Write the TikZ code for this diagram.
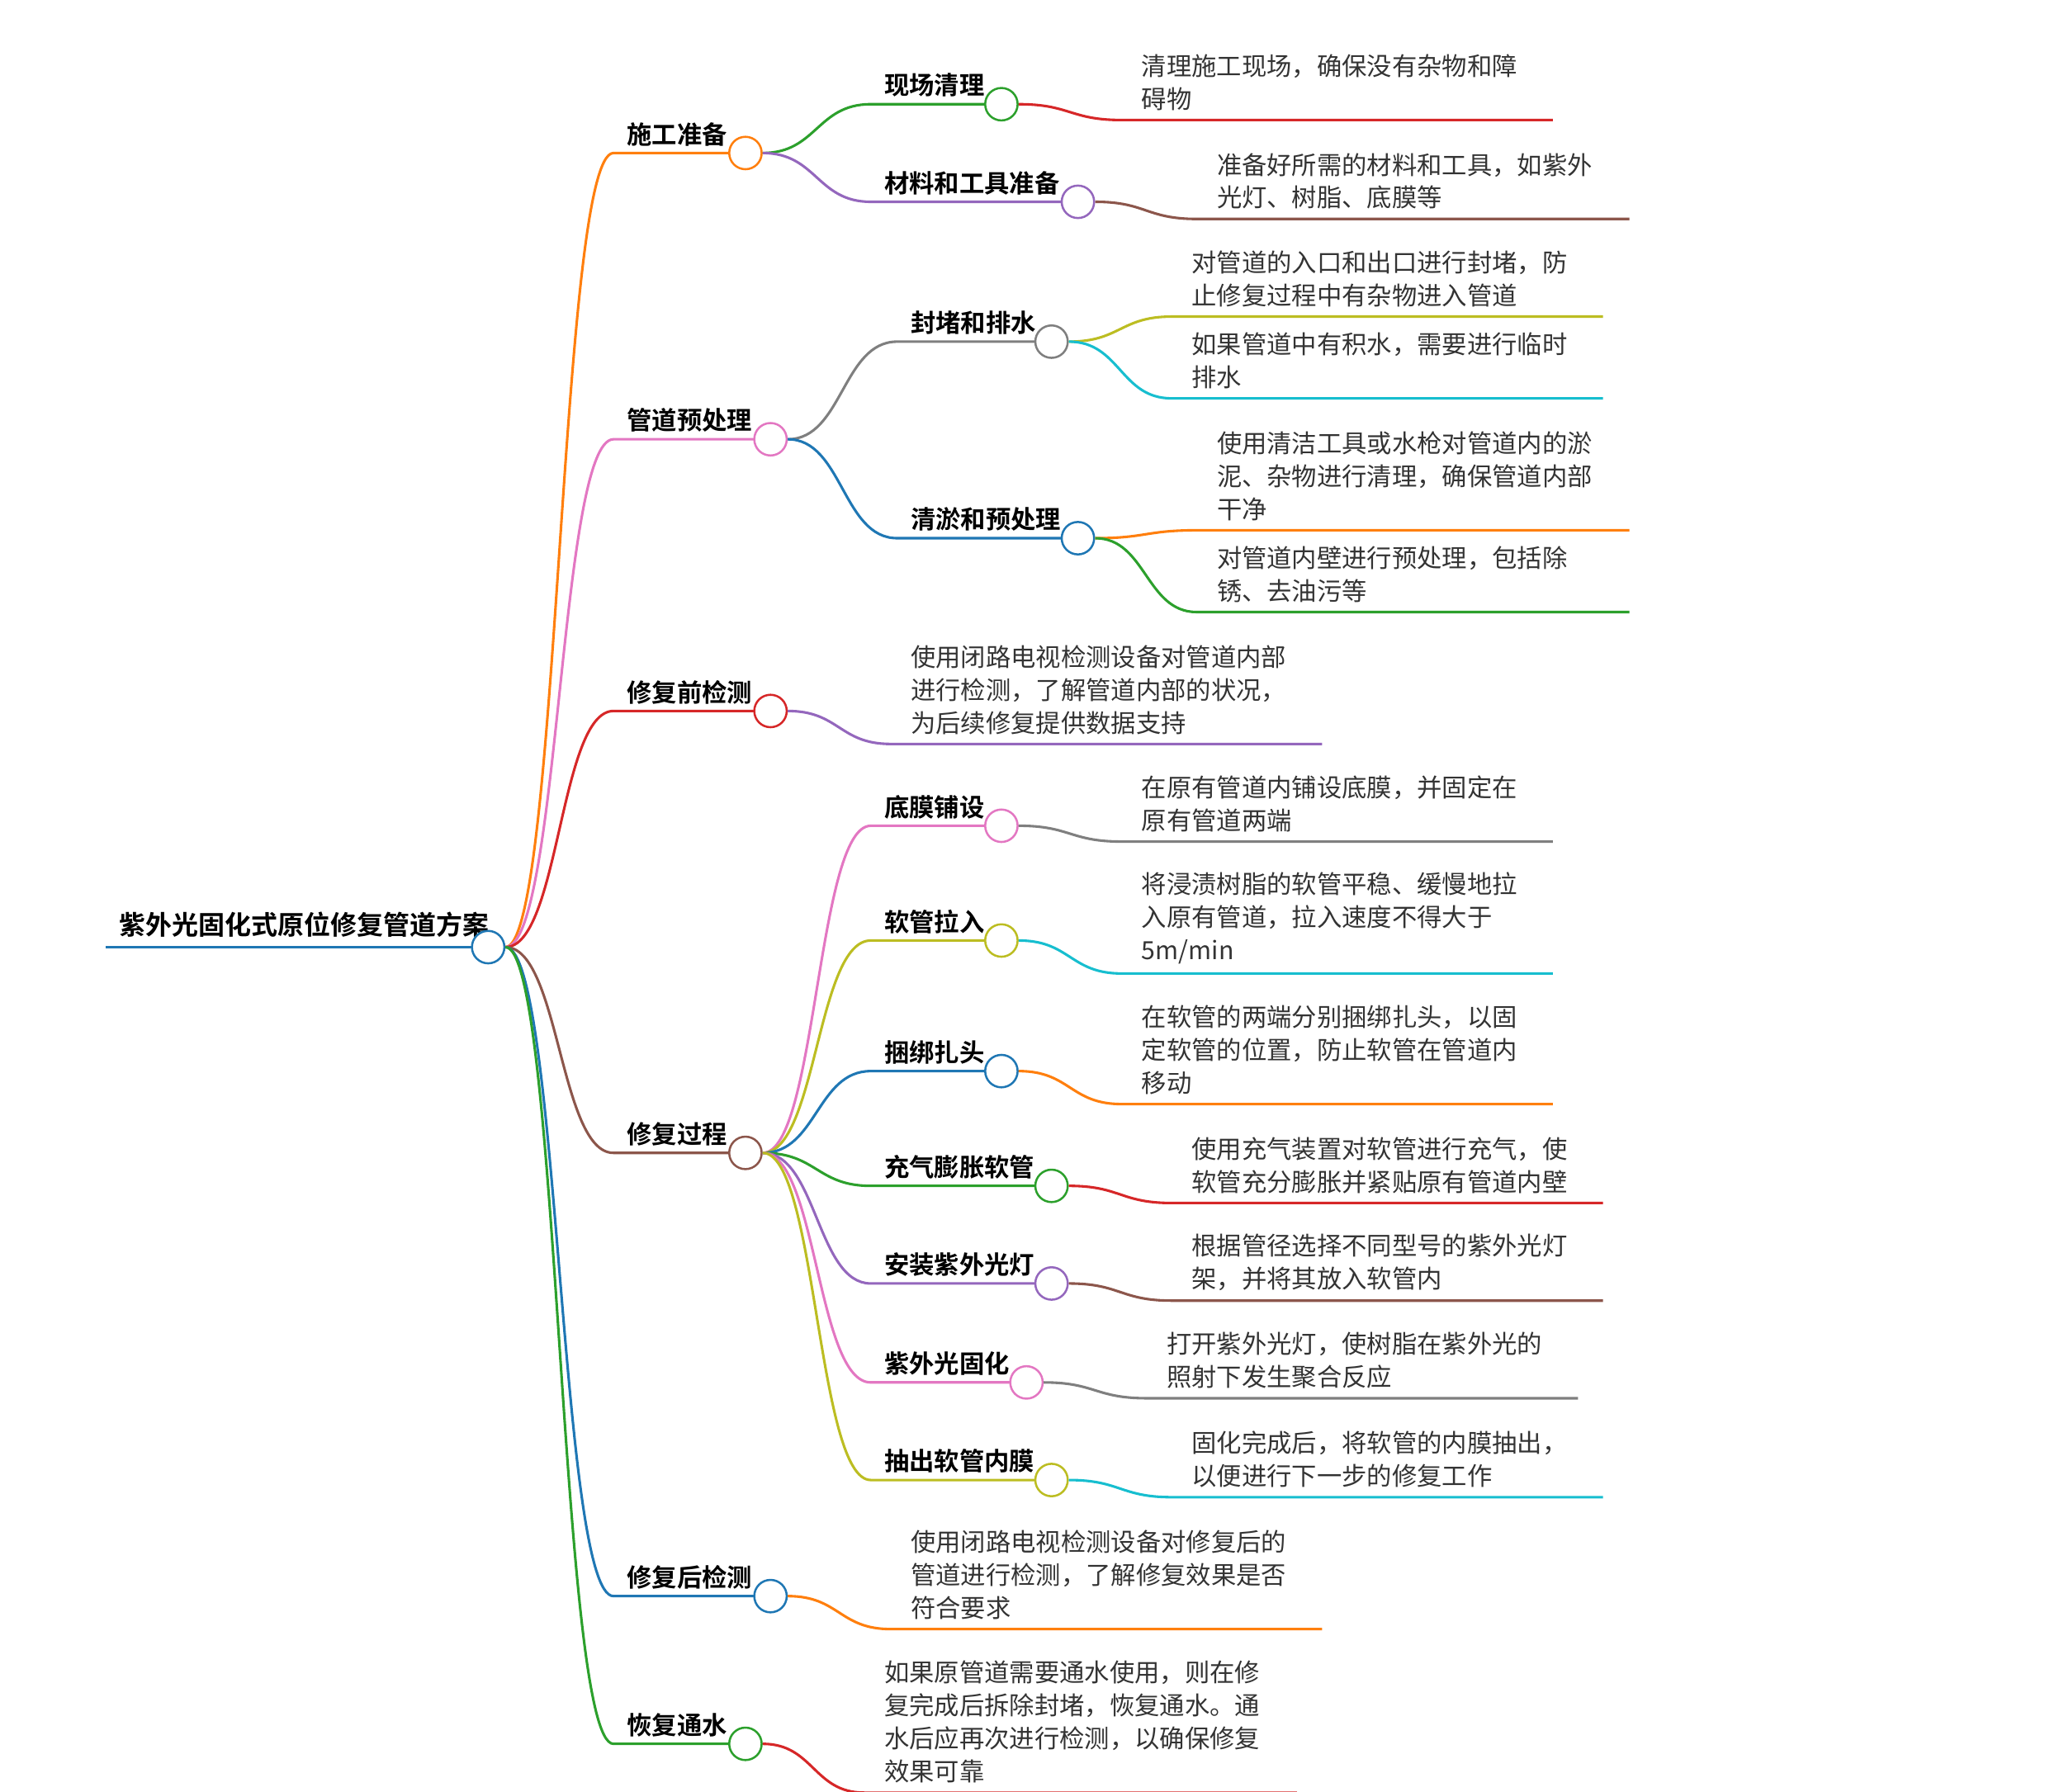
\documentclass[tikz,border=0pt]{standalone}
\usepackage{fontspec}
\setmainfont{Noto Sans CJK SC}[BoldFont={Noto Sans CJK SC Bold}]
\usetikzlibrary{calc}

\definecolor{cOrange}{HTML}{FF7F0E}
\definecolor{cPink}{HTML}{E377C2}
\definecolor{cRed}{HTML}{D62728}
\definecolor{cBrown}{HTML}{8C564B}
\definecolor{cBlue}{HTML}{1F77B4}
\definecolor{cGreen}{HTML}{2CA02C}
\definecolor{cPurple}{HTML}{9467BD}
\definecolor{cGray}{HTML}{7F7F7F}
\definecolor{cOlive}{HTML}{BCBD22}
\definecolor{cCyan}{HTML}{17BECF}
\definecolor{cText}{HTML}{333333}

\tikzset{
  dot/.style={circle,fill=white,minimum size=14,inner sep=0pt,line width=0.9pt},
  topic/.style={anchor=south west,inner sep=0pt,font=\bfseries\fontsize{10.8}{14.2}\selectfont,text=black},
  leaftext/.style={anchor=south west,inner sep=0pt,align=left,text=cText,font=\fontsize{10.8}{14.2}\selectfont},
  branch/.style={line width=1.1pt}
}

% #1 name, #2 parent, #3 line start x, #4 circle x, #5 y, #6 colour, #7 label
\newcommand{\kid}[7]{%
  \coordinate (#1-s) at (#3,#5);
  \coordinate (#1) at (#4,#5);
  \coordinate (#1-m) at ($(#2-c.east)!.5!(#1-s)$);
  \draw[branch,#6] (#2-c.east) .. controls (#1-m |- #2-c.east) and (#1-m |- #1-s) .. (#1-s) -- (#1);
  \node[topic] (#1-t) at ($(#1-s)+(10,-5)$) {#7};
  \node[dot,draw=#6] (#1-c) at (#1) {};
}
% #1 name, #2 parent, #3 text x, #4 end x, #5 y, #6 colour, #7 text
\newcommand{\leaf}[7]{%
  \coordinate (#1-s) at ($(#3,#5)+(-15,0)$);
  \coordinate (#1-e) at (#4,#5);
  \coordinate (#1-m) at ($(#2-c.east)!.5!(#1-s)$);
  \draw[branch,#6] (#2-c.east) .. controls (#1-m |- #2-c.east) and (#1-m |- #1-s) .. (#1-s) -- (#1-e);
  \node[leaftext] (#1-t) at (#3,#5-7) {#7};
}

\begin{document}
\begin{tikzpicture}[x=0.02cm,y=-0.02cm]
  \useasboundingbox (0,0) rectangle (1550,1358);

  % root
  \coordinate (root-s) at (80,718);
  \coordinate (root) at (370,718);
  \draw[branch,cBlue] (root-s) -- (root);
  \node[topic,font=\bfseries\fontsize{11.4}{14.2}\selectfont] (root-t) at (90,711) {紫外光固化式原位修复管道方案};
  \node[dot,draw=cBlue] (root-c) at (root) {};

  % first level
  \kid{prep}{root}{465}{565}{116}{cOrange}{施工准备}
  \kid{pre}{root}{465}{584}{333}{cPink}{管道预处理}
  \kid{chk}{root}{465}{584}{539}{cRed}{修复前检测}
  \kid{fix}{root}{465}{565}{874}{cBrown}{修复过程}
  \kid{after}{root}{465}{584}{1210}{cBlue}{修复后检测}
  \kid{water}{root}{465}{565}{1322}{cGreen}{恢复通水}

  % 施工准备
  \kid{clean}{prep}{660}{759}{79}{cGreen}{现场清理}
  \kid{tools}{prep}{660}{817}{153}{cPurple}{材料和工具准备}
  \leaf{clean1}{clean}{865}{1177}{91}{cRed}{清理施工现场，确保没有杂物和障\\碍物}
  \leaf{tools1}{tools}{922}{1235}{166}{cBrown}{准备好所需的材料和工具，如紫外\\光灯、树脂、底膜等}

  % 管道预处理
  \kid{seal}{pre}{680}{797}{259}{cGray}{封堵和排水}
  \kid{dredge}{pre}{680}{817}{408}{cBlue}{清淤和预处理}
  \leaf{seal1}{seal}{903}{1215}{240}{cOlive}{对管道的入口和出口进行封堵，防\\止修复过程中有杂物进入管道}
  \leaf{seal2}{seal}{903}{1215}{302}{cCyan}{如果管道中有积水，需要进行临时\\排水}
  \leaf{dredge1}{dredge}{922}{1235}{402}{cOrange}{使用清洁工具或水枪对管道内的淤\\泥、杂物进行清理，确保管道内部\\干净}
  \leaf{dredge2}{dredge}{922}{1235}{464}{cGreen}{对管道内壁进行预处理，包括除\\锈、去油污等}

  % 修复前检测
  \leaf{chk1}{chk}{690}{1002}{564}{cPurple}{使用闭路电视检测设备对管道内部\\进行检测，了解管道内部的状况，\\为后续修复提供数据支持}

  % 修复过程
  \kid{film}{fix}{660}{759}{626}{cPink}{底膜铺设}
  \kid{pull}{fix}{660}{759}{713}{cOlive}{软管拉入}
  \kid{tie}{fix}{660}{759}{812}{cBlue}{捆绑扎头}
  \kid{inflate}{fix}{660}{797}{899}{cGreen}{充气膨胀软管}
  \kid{lamp}{fix}{660}{797}{973}{cPurple}{安装紫外光灯}
  \kid{cure}{fix}{660}{778}{1048}{cPink}{紫外光固化}
  \kid{strip}{fix}{660}{797}{1122}{cOlive}{抽出软管内膜}
  \leaf{film1}{film}{865}{1177}{638}{cGray}{在原有管道内铺设底膜，并固定在\\原有管道两端}
  \leaf{pull1}{pull}{865}{1177}{738}{cCyan}{将浸渍树脂的软管平稳、缓慢地拉\\入原有管道，拉入速度不得大于\\5m/min}
  \leaf{tie1}{tie}{865}{1177}{837}{cOrange}{在软管的两端分别捆绑扎头，以固\\定软管的位置，防止软管在管道内\\移动}
  \leaf{inflate1}{inflate}{903}{1215}{912}{cRed}{使用充气装置对软管进行充气，使\\软管充分膨胀并紧贴原有管道内壁}
  \leaf{lamp1}{lamp}{903}{1215}{986}{cBrown}{根据管径选择不同型号的紫外光灯\\架，并将其放入软管内}
  \leaf{cure1}{cure}{884}{1196}{1060}{cGray}{打开紫外光灯，使树脂在紫外光的\\照射下发生聚合反应}
  \leaf{strip1}{strip}{903}{1215}{1135}{cCyan}{固化完成后，将软管的内膜抽出，\\以便进行下一步的修复工作}

  % 修复后检测 / 恢复通水
  \leaf{after1}{after}{690}{1002}{1235}{cOrange}{使用闭路电视检测设备对修复后的\\管道进行检测，了解修复效果是否\\符合要求}
  \leaf{water1}{water}{670}{983}{1359}{cRed}{如果原管道需要通水使用，则在修\\复完成后拆除封堵，恢复通水。通\\水后应再次进行检测，以确保修复\\效果可靠}
\end{tikzpicture}
\end{document}
